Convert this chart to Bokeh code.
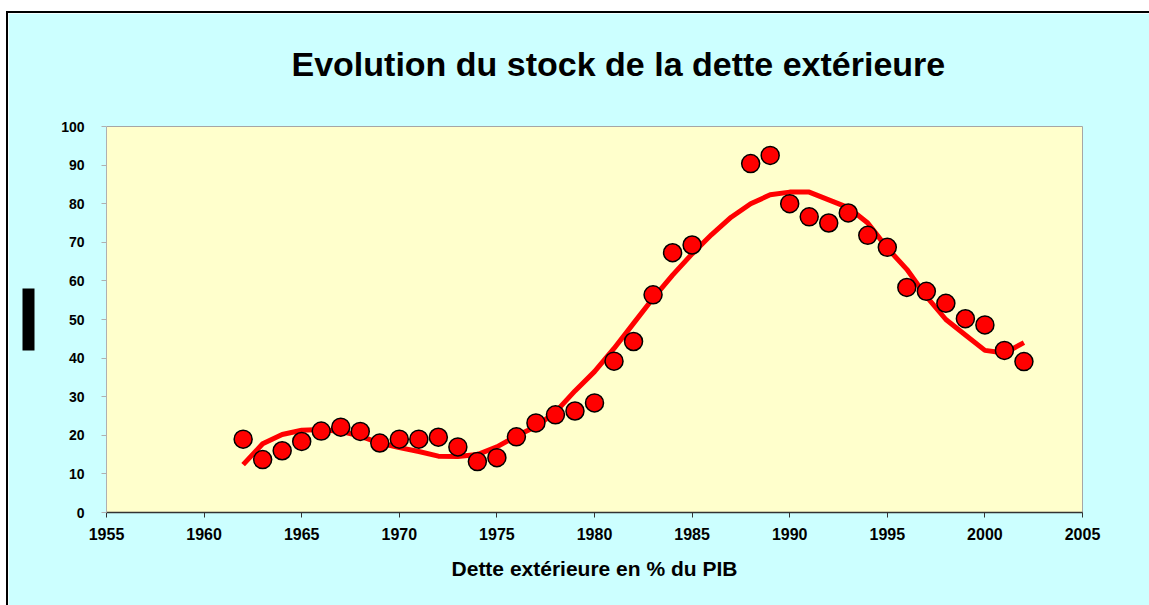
from bokeh.plotting import figure
from bokeh.models import FixedTicker, Range1d, LinearAxis, CustomLabelingPolicy
from bokeh.embed import file_html
from bokeh.resources import INLINE

# ---- data ----
years = [1962, 1963, 1964, 1965, 1966, 1967, 1968, 1969, 1970, 1971, 1972, 1973,
         1974, 1975, 1976, 1977, 1978, 1979, 1980, 1981, 1982, 1983, 1984, 1985,
         1988, 1989, 1990, 1991, 1992, 1993, 1994, 1995, 1996, 1997, 1998, 1999,
         2000, 2001, 2002]
debt_pct = [19.0, 13.7, 16.0, 18.4, 21.1, 22.1, 21.0, 18.0, 19.0, 19.0, 19.5, 17.0,
            13.2, 14.2, 19.6, 23.2, 25.3, 26.3, 28.4, 39.2, 44.3, 56.4, 67.3, 69.3,
            90.4, 92.5, 80.0, 76.6, 75.0, 77.6, 71.8, 68.7, 58.3, 57.3, 54.2, 50.2,
            48.6, 42.0, 39.1]

trend_years = list(range(1962, 2003))
trend_vals = [12.4, 17.8, 20.2, 21.3, 21.5, 21.0, 19.8, 18.0, 16.8, 15.8, 14.6, 14.5,
              15.0, 17.0, 19.8, 22.3, 26.0, 31.5, 36.5, 42.5, 49.0, 55.5, 61.5, 67.0,
              72.0, 76.5, 80.0, 82.3, 83.0, 83.0, 81.0, 79.0, 75.0, 68.5, 63.0, 56.0,
              50.0, 46.0, 42.0, 41.3, 44.0]

x_ticks = [1955, 1960, 1965, 1970, 1975, 1980, 1985, 1990, 1995, 2000, 2005]
y_ticks = [0, 10, 20, 30, 40, 50, 60, 70, 80, 90, 100]

title_text = "Evolution du stock de la dette extérieure"
x_label = "Dette extérieure en % du PIB"

FONT = "Liberation Sans"
BG = "#CCFFFF"

p = figure(
    title=title_text,
    frame_width=976, frame_height=386,
    min_border_left=98, min_border_right=67, min_border_top=113, min_border_bottom=93,
    x_range=Range1d(1955, 2005), y_range=Range1d(0, 100),
    output_backend="svg", toolbar_location=None,
    background_fill_color="#FFFFCC", border_fill_color=BG,
    styles={"margin-left": "6px", "margin-top": "11px",
            "border-left": "2px solid black", "border-top": "2px solid black"},
)

p.title.align = "left"
p.title.vertical_align = "bottom"
p.title.offset = 185
p.title.standoff = 10
p.title.text_font = FONT
p.title.text_font_size = "34px"
p.title.text_font_style = "bold"
p.title.text_color = "#000000"

p.outline_line_color = "#A6A6A6"
p.outline_line_width = 1
p.xgrid.visible = False
p.ygrid.visible = False

# axes
p.xaxis.ticker = FixedTicker(ticks=x_ticks)
p.yaxis.ticker = FixedTicker(ticks=y_ticks)
p.xaxis.minor_tick_line_color = None
p.yaxis.minor_tick_line_color = None
p.xaxis.axis_line_color = "#333333"
p.xaxis.axis_line_width = 1.5
p.xaxis.major_tick_line_color = "#333333"
p.xaxis.major_tick_in = 0
p.xaxis.major_tick_out = 5
p.yaxis.axis_line_color = "#B0B0B0"
p.yaxis.major_tick_line_color = "#B0B0B0"
p.yaxis.major_tick_in = 0
p.yaxis.major_tick_out = 5
p.xaxis.major_label_text_font = FONT
p.xaxis.major_label_text_font_style = "bold"
p.xaxis.major_label_text_font_size = "16px"
p.xaxis.major_label_text_color = "#000000"
p.xaxis.major_label_standoff = 10
p.yaxis.major_label_text_font = FONT
p.yaxis.major_label_text_font_style = "bold"
p.yaxis.major_label_text_font_size = "14px"
p.yaxis.major_label_text_color = "#000000"
p.yaxis.major_label_standoff = 17
p.xaxis.axis_label = x_label
p.xaxis.axis_label_text_font = FONT
p.xaxis.axis_label_text_font_style = "bold"
p.xaxis.axis_label_text_font_size = "21px"
p.xaxis.axis_label_text_color = "#000000"
p.xaxis.axis_label_standoff = 14

# invisible spacer axes (one tick drawn in the background colour, labels never drawn)
no_labels = CustomLabelingPolicy(code="""
for (const i of indices) { indices.unset(i) }
return indices
""")
top_spacer = LinearAxis(ticker=FixedTicker(ticks=[1955]), axis_line_color=None,
                        major_tick_out=28, major_tick_in=0, major_tick_line_color=BG,
                        minor_tick_line_color=None, major_label_policy=no_labels,
                        major_label_standoff=0)
p.add_layout(top_spacer, "above")

spacer = LinearAxis(ticker=FixedTicker(ticks=[0]), axis_line_color=None,
                    major_tick_out=21, major_tick_in=0, major_tick_line_color=BG,
                    minor_tick_line_color=None, major_label_policy=no_labels,
                    major_label_standoff=0)
p.add_layout(spacer, "left")
# short thick black axis line: the black block at the left of the chart
block = LinearAxis(ticker=FixedTicker(ticks=[]), bounds=(42, 58),
                   axis_line_color="#000000", axis_line_width=12, axis_line_cap="butt",
                   major_tick_line_color=None, minor_tick_line_color=None,
                   major_label_standoff=0)
p.add_layout(block, "left")

# trend line and points
p.line(trend_years, trend_vals, line_color="#FF0000", line_width=5)
p.scatter(years, debt_pct, size=18, marker="circle", fill_color="#FF0000",
          line_color="#000000", line_width=1.5)

open("out.html", "w").write(file_html(p, INLINE))
